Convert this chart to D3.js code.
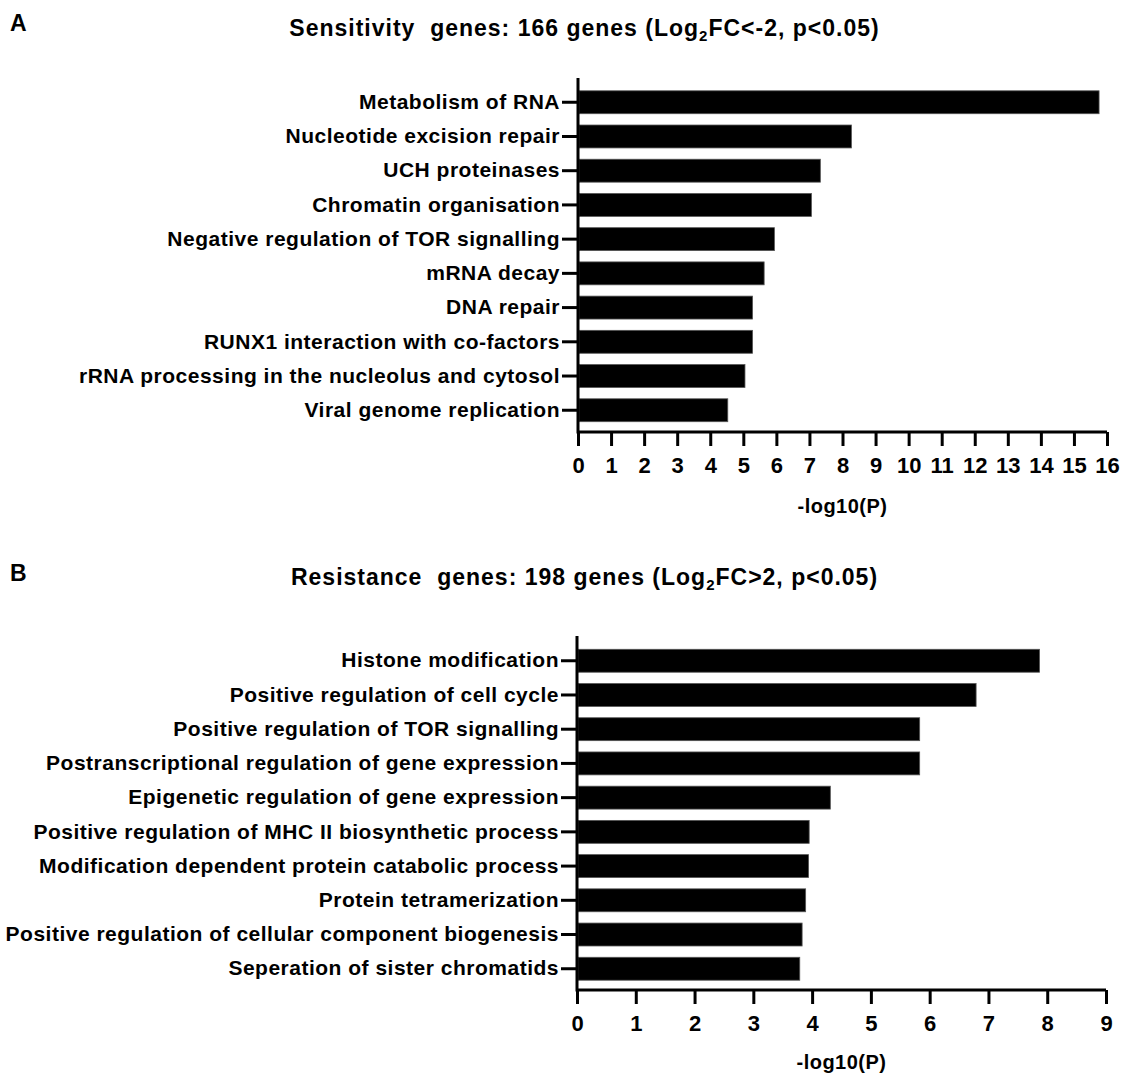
<!DOCTYPE html>
<html><head><meta charset="utf-8">
<script src="https://cdn.jsdelivr.net/npm/d3@7"></script>
<style>
html,body{margin:0;padding:0;background:#fff;}
text{font-family:"Liberation Sans",Arial,sans-serif;font-weight:bold;fill:#000;}
</style></head>
<body>
<svg id="chart" width="1123" height="1074"></svg>
<script>
// Panel A data
const categoriesA = ["Metabolism of RNA","Nucleotide excision repair","UCH proteinases","Chromatin organisation","Negative regulation of TOR signalling","mRNA decay","DNA repair","RUNX1 interaction with co-factors","rRNA processing in the nucleolus and cytosol","Viral genome replication"];
const valuesA = [15.76, 8.27, 7.33, 7.06, 5.94, 5.63, 5.28, 5.28, 5.05, 4.53];
const ticksA = [0,1,2,3,4,5,6,7,8,9,10,11,12,13,14,15,16];
// Panel B data
const categoriesB = ["Histone modification","Positive regulation of cell cycle","Positive regulation of TOR signalling","Postranscriptional regulation of gene expression","Epigenetic regulation of gene expression","Positive regulation of MHC II biosynthetic process","Modification dependent protein catabolic process","Protein tetramerization","Positive regulation of cellular component biogenesis","Seperation of sister chromatids"];
const valuesB = [7.87, 6.79, 5.83, 5.83, 4.31, 3.95, 3.94, 3.89, 3.83, 3.79];
const ticksB = [0,1,2,3,4,5,6,7,8,9];
const xTitle = "-log10(P)";

const svg = d3.select("#chart");

function panel(opt){
  const g = svg.append("g");
  const x = d3.scaleLinear().domain([0, opt.ticks[opt.ticks.length-1]]).range([opt.x0, opt.x1]);
  const y = d3.scaleBand().domain(opt.cats).range([opt.bandTop, opt.bandBot]).paddingInner(0.33).paddingOuter(0.33);

  // bars
  g.selectAll("rect.bar").data(opt.cats).enter().append("rect")
    .attr("class","bar")
    .attr("x", x(0)+1)
    .attr("y", d => y(d))
    .attr("width", (d,i) => x(opt.vals[i]) - x(0) - 1)
    .attr("height", y.bandwidth())
    .attr("fill", "#000")
    .attr("stroke", "#555").attr("stroke-width", 0.8);

  // x axis
  const xa = g.append("g").attr("transform", `translate(0,${opt.axisY})`)
    .call(d3.axisBottom(x).tickValues(opt.ticks).tickFormat(d3.format("d")).tickSize(14).tickPadding(11).tickSizeOuter(14));
  xa.select(".domain").attr("stroke","#000").attr("stroke-width",3).attr("d", `M${opt.x0},0H${opt.x1}`);
  xa.selectAll(".tick line").attr("stroke","#000").attr("stroke-width",3);
  xa.selectAll(".tick text").attr("font-size", 22).attr("font-family","Liberation Sans, Arial, sans-serif").attr("font-weight","bold");

  // y axis
  const ya = g.append("g").attr("transform", `translate(${opt.x0},0)`)
    .call(d3.axisLeft(y).tickSize(16).tickPadding(2).tickSizeOuter(0));
  ya.select(".domain").attr("stroke","#000").attr("stroke-width",3).attr("d", `M0,${opt.yTop}V${opt.axisY+1.5}`);
  ya.selectAll(".tick line").attr("stroke","#000").attr("stroke-width",3);
  ya.selectAll(".tick text").attr("font-size", 21).attr("letter-spacing", "0.5px")
    .attr("font-family","Liberation Sans, Arial, sans-serif").attr("font-weight","bold");

  // x title
  g.append("text").attr("x", (opt.x0+opt.x1)/2).attr("y", opt.xTitleY)
    .attr("text-anchor","middle").attr("font-size",20).attr("letter-spacing","0.5px").text(xTitle);

  // panel letter
  g.append("text").attr("x", 10).attr("y", opt.letterY).attr("font-size",23).text(opt.letter);

  // title
  const t = g.append("text").attr("x", 584.5).attr("y", opt.titleY).attr("text-anchor","middle")
    .attr("font-size",23).attr("letter-spacing","1px");
  t.append("tspan").text(opt.titlePre);
  t.append("tspan").attr("font-size",15).attr("dy",5).text("2");
  t.append("tspan").attr("dy",-5).text(opt.titlePost);
}

panel({cats:categoriesA, vals:valuesA, ticks:ticksA, x0:578, x1:1107, yTop:78, bandTop:79.5, bandBot:433, axisY:432,
  xTitleY:513, titleY:36, letterY:31, letter:"A",
  titlePre:"Sensitivity\u00a0 genes: 166 genes (Log", titlePost:"FC<-2, p<0.05)"});
panel({cats:categoriesB, vals:valuesB, ticks:ticksB, x0:577, x1:1106, yTop:636, bandTop:638, bandBot:991.5, axisY:990,
  xTitleY:1069, titleY:585, letterY:581, letter:"B",
  titlePre:"Resistance\u00a0 genes: 198 genes (Log", titlePost:"FC>2, p<0.05)"});
</script>
</body></html>
